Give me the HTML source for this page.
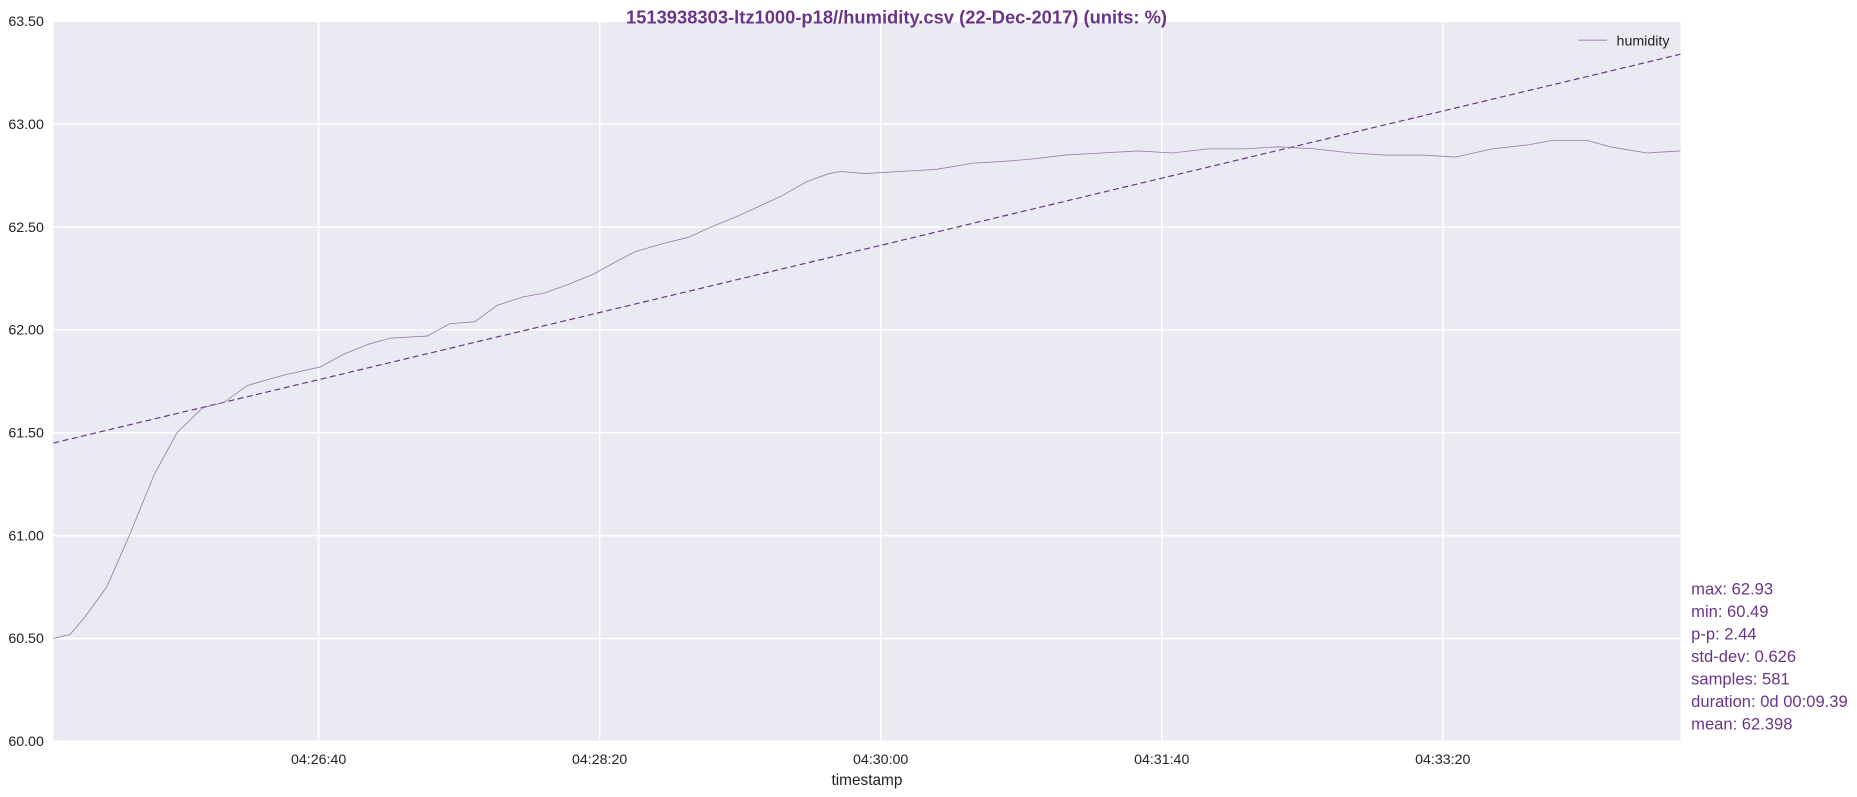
<!DOCTYPE html>
<html><head><meta charset="utf-8">
<style>
html,body{margin:0;padding:0;background:#fff;}
svg{display:block;font-family:"Liberation Sans",sans-serif;}
</style></head>
<body>
<svg id="chart" width="1857" height="797" viewBox="0 0 1568 673" xmlns="http://www.w3.org/2000/svg">
<rect x="45" y="18" width="1374" height="608" fill="#eaeaf2"/>
<g id="grid"></g>
<g id="yticks"></g>
<g id="xticks"></g>
<polyline id="trend" fill="none" stroke="#6a3488" stroke-width="1" stroke-dasharray="5,3"/>
<polyline id="series" fill="none" stroke="#9a7aae" stroke-width="0.7"/>
<text x="757" y="20" text-anchor="middle" font-size="15.5" font-weight="bold" fill="#6a3488">1513938303-ltz1000-p18//humidity.csv (22-Dec-2017) (units: %)</text>
<g>
<line x1="1333" y1="34" x2="1357" y2="34" stroke="#b8a0c8" stroke-width="1.2"/>
<text x="1365" y="38.5" font-size="12" fill="#222">humidity</text>
</g>
<text x="732" y="663" text-anchor="middle" font-size="13" fill="#222">timestamp</text>
<g id="stats" font-size="14" fill="#6a3488"></g>
</svg>
<script>
const tSec=[0,6,11,19,27,36,44,53,61,69,82,95,103,112,120,133,141,150,158,167,175,183,192,200,207,217,226,234,243,251,259,268,276,280,289,301,314,327,339,348,360,373,386,398,411,424,436,449,462,474,487,499,512,525,533,546,554,567,579];
const humidity=[60.50,60.52,60.60,60.75,61.00,61.30,61.50,61.62,61.65,61.73,61.78,61.82,61.88,61.93,61.96,61.97,62.03,62.04,62.12,62.16,62.18,62.22,62.27,62.33,62.38,62.42,62.45,62.50,62.55,62.60,62.65,62.72,62.76,62.77,62.76,62.77,62.78,62.81,62.82,62.83,62.85,62.86,62.87,62.86,62.88,62.88,62.89,62.88,62.86,62.85,62.85,62.84,62.88,62.90,62.92,62.92,62.89,62.86,62.87];
const trendVals=[61.45,63.34];
const yTicks=[60.00,60.50,61.00,61.50,62.00,62.50,63.00,63.50];
const xTickSec=[94.4,194.4,294.4,394.4,494.4];
const xTickLabels=["04:26:40","04:28:20","04:30:00","04:31:40","04:33:20"];
const statLines=["max: 62.93","min: 60.49","p-p: 2.44","std-dev: 0.626","samples: 581","duration: 0d 00:09.39","mean: 62.398"];

const X0=45,X1=1419,Y0=626,Y1=18,TMAX=579,VMIN=60,VMAX=63.5;
const sx=t=>X0+(t/TMAX)*(X1-X0);
const sy=v=>Y0-(v-VMIN)/(VMAX-VMIN)*(Y0-Y1);
const NS="http://www.w3.org/2000/svg";
const mk=(tag,attrs,parent)=>{const e=document.createElementNS(NS,tag);for(const k in attrs)e.setAttribute(k,attrs[k]);document.getElementById(parent).appendChild(e);return e;};

yTicks.forEach((v,i)=>{
  const g=mk('line',{x1:X0,x2:X1,y1:sy(v),y2:sy(v),stroke:'#fff','stroke-width':1.2},'grid');
  
  
  const t=mk('text',{x:X0-8,y:sy(v)+4,'text-anchor':'end','font-size':12,fill:'#222'},'yticks');
  
  
  t.textContent=v.toFixed(2);
});
xTickSec.forEach((s,i)=>{
  const g=mk('line',{x1:sx(s),x2:sx(s),y1:Y1,y2:Y0,stroke:'#fff','stroke-width':1.2},'grid');
  
  
  const t=mk('text',{x:sx(s),y:Y0+19,'text-anchor':'middle','font-size':12,fill:'#222'},'xticks');
  
  
  t.textContent=xTickLabels[i];
});
document.getElementById('series').setAttribute('points',tSec.map((t,i)=>sx(t)+','+sy(humidity[i])).join(' '));
document.getElementById('trend').setAttribute('points',sx(0)+','+sy(trendVals[0])+' '+sx(TMAX)+','+sy(trendVals[1]));
statLines.forEach((s,i)=>{
  const t=mk('text',{x:1428,y:502+i*19},'stats');
  
  
  t.textContent=s;
});
</script>
</body></html>
